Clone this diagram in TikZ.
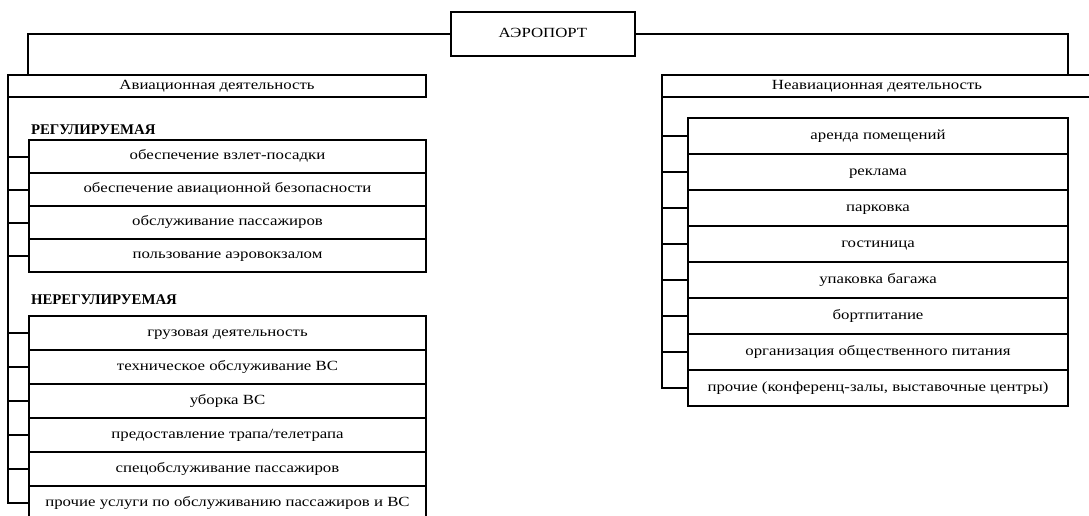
\documentclass[tikz,border=0pt]{standalone}
\usepackage{fontspec}
\setmainfont{Liberation Serif}[FakeStretch=1.2]
\newfontfamily\grpfont{Liberation Serif}
\usepackage{tikz}
\usetikzlibrary{positioning}

\begin{document}
\begin{tikzpicture}[
	x=1pt,
	y=-1pt,
	line width=2pt,
	node distance=0pt,
	font=\fontsize{14}{16}\selectfont,
	box/.style={draw, rectangle, inner sep=0pt, outer sep=0pt, text height=9pt, text depth=2.5pt},
	head/.style={box, minimum height=22pt},
	item/.style={box, minimum width=397pt, minimum height=33pt},
	nitem/.style={box, minimum width=397pt, minimum height=34pt},
	ritem/.style={box, minimum width=380pt, minimum height=36pt},
	group/.style={anchor=west, inner sep=0pt, font=\grpfont\fontsize{14.8}{17}\selectfont\bfseries}
  ]

  \useasboundingbox (0,0) rectangle (1089,516);
  \clip (0,0) rectangle (1089,516);

  \node[box, minimum width=184pt, minimum height=44pt] (port) at (543,34) {АЭРОПОРТ};

  \node[head, minimum width=418pt] (avia)   at (217,86) {Авиационная деятельность};
  \node[head, minimum width=430pt] (neavia) at (877,86) {Неавиационная деятельность};

  % regulated
  \node[group] (reg) at (30,130) {РЕГУЛИРУЕМАЯ};
  \node[item] (reg1) at (227.5,156.5) {обеспечение взлет-посадки};
  \node[item, below=of reg1] (reg2) {обеспечение авиационной безопасности};
  \node[item, below=of reg2] (reg3) {обслуживание пассажиров};
  \node[item, below=of reg3] (reg4) {пользование аэровокзалом};

  % non-regulated
  \node[group] (nonreg) at (30,300) {НЕРЕГУЛИРУЕМАЯ};
  \node[nitem] (nr1) at (227.5,333) {грузовая деятельность};
  \node[nitem, below=of nr1] (nr2) {техническое обслуживание ВС};
  \node[nitem, below=of nr2] (nr3) {уборка ВС};
  \node[nitem, below=of nr3] (nr4) {предоставление трапа/телетрапа};
  \node[nitem, below=of nr4] (nr5) {спецобслуживание пассажиров};
  \node[nitem, below=of nr5] (nr6) {прочие услуги по обслуживанию пассажиров и ВС};

  % non-aviation
  \node[ritem] (r1) at (878,136) {аренда помещений};
  \node[ritem, below=of r1] (r2) {реклама};
  \node[ritem, below=of r2] (r3) {парковка};
  \node[ritem, below=of r3] (r4) {гостиница};
  \node[ritem, below=of r4] (r5) {упаковка багажа};
  \node[ritem, below=of r5] (r6) {бортпитание};
  \node[ritem, below=of r6] (r7) {организация общественного питания};
  \node[ritem, below=of r7] (r8) {прочие (конференц-залы, выставочные центры)};

  \draw (port.west) -| ([xshift=20pt]avia.north west);
  \draw (port.east) -| (r1.east |- neavia.north);

  \foreach \n in {reg1,reg2,reg3,reg4,nr1,nr2,nr3,nr4,nr5,nr6}
    \draw (avia.south west) |- (\n.west);
  \foreach \n in {r1,r2,r3,r4,r5,r6,r7,r8}
    \draw (neavia.south west) |- (\n.west);

\end{tikzpicture}
\end{document}
